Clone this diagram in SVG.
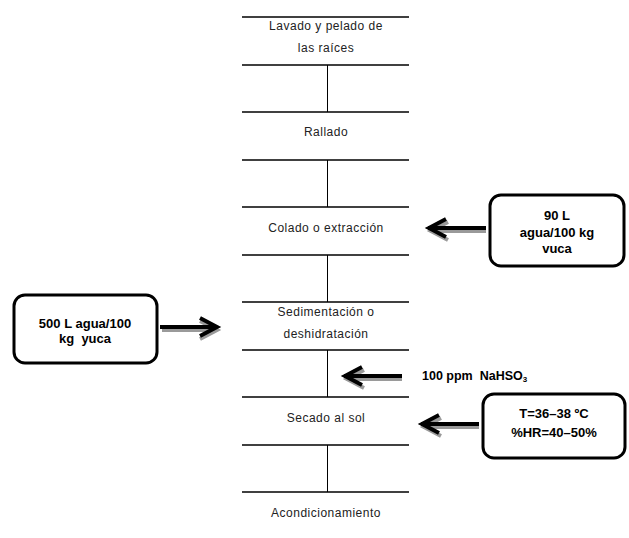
<svg xmlns="http://www.w3.org/2000/svg" width="629" height="538" viewBox="0 0 629 538">
<defs>
<style>
.rule{stroke:#000;stroke-width:1.5;fill:none}
.vert{stroke:#000;stroke-width:1;fill:none}
.step{font-family:"Liberation Sans",Arial,sans-serif;font-size:12px;letter-spacing:0.5px;fill:#222;text-anchor:middle}
.box{fill:#fff;stroke:#000;stroke-width:3}
.btxt{font-family:"Liberation Sans",Arial,sans-serif;font-size:13px;font-weight:bold;fill:#000;text-anchor:middle;white-space:pre}
.shadow{stroke:#9a9a9a;stroke-width:4;fill:none;stroke-linejoin:miter}
.arr{stroke:#000;stroke-width:4;fill:none;stroke-linejoin:miter}
</style>
<g id="arrowL">
<path class="shadow" d="M2 3 H58 M20 -6 L3 3 L20 12"/>
<path class="arr" d="M0 0 H58 M18 -9 L1 0 L18 9"/>
</g>
<g id="arrowR">
<path class="shadow" d="M2 3 H57 M40 -6 L57 3 L40 12"/>
<path class="arr" d="M0 0 H57 M40 -9 L57 0 L40 9"/>
</g>
</defs>
<g id="flow">
<g id="lines">
<line class="rule" x1="242" y1="17" x2="409" y2="17"/>
<line class="rule" x1="242" y1="65" x2="409" y2="65"/>
<line class="rule" x1="242" y1="112" x2="409" y2="112"/>
<line class="rule" x1="242" y1="160" x2="409" y2="160"/>
<line class="rule" x1="242" y1="207" x2="409" y2="207"/>
<line class="rule" x1="242" y1="255" x2="409" y2="255"/>
<line class="rule" x1="242" y1="302" x2="409" y2="302"/>
<line class="rule" x1="242" y1="350" x2="409" y2="350"/>
<line class="rule" x1="242" y1="397" x2="409" y2="397"/>
<line class="rule" x1="242" y1="445" x2="409" y2="445"/>
<line class="rule" x1="242" y1="492" x2="409" y2="492"/>
</g>
<g id="connectors">
<line class="vert" x1="327.5" y1="65" x2="327.5" y2="112"/>
<line class="vert" x1="327.5" y1="160" x2="327.5" y2="207"/>
<line class="vert" x1="327.5" y1="255" x2="327.5" y2="302"/>
<line class="vert" x1="327.5" y1="350" x2="327.5" y2="397"/>
<line class="vert" x1="327.5" y1="445" x2="327.5" y2="492"/>
<use href="#arrowL" x="428" y="228"/>
<use href="#arrowR" x="160" y="327"/>
<use href="#arrowL" x="344" y="376"/>
<use href="#arrowL" x="421" y="424"/>
</g>
<g id="n1"><text class="step" x="326" y="30">Lavado y pelado de</text><text class="step" x="326" y="52">las raíces</text></g>
<g id="n2"><text class="step" x="326" y="136">Rallado</text></g>
<g id="n3"><text class="step" x="326" y="232">Colado o extracción</text></g>
<g id="n4"><text class="step" x="326" y="316">Sedimentación o</text><text class="step" x="326" y="338">deshidratación</text></g>
<g id="n5"><text class="step" x="326" y="422">Secado al sol</text></g>
<g id="n6"><text class="step" x="326" y="517">Acondicionamiento</text></g>
<g id="b1"><rect class="box" x="490" y="195" width="134" height="71" rx="11"/>
<text class="btxt" x="557" y="220">90 L</text><text class="btxt" x="557" y="237">agua/100 kg</text><text class="btxt" x="557" y="253">vuca</text></g>
<g id="b2"><rect class="box" x="14" y="295" width="143" height="68" rx="11"/>
<text class="btxt" x="85" y="328">500 L agua/100</text><text class="btxt" x="85" y="343">kg  yuca</text></g>
<g id="b3"><text class="btxt" x="422" y="380" style="text-anchor:start;font-size:12.5px">100 ppm  NaHSO<tspan font-size="8" dy="2">3</tspan></text></g>
<g id="b4"><rect class="box" x="483" y="394" width="142" height="64" rx="11"/>
<text class="btxt" x="554" y="418">T=36–38 ºC</text><text class="btxt" x="554" y="437">%HR=40–50%</text></g>
</g>
</svg>
